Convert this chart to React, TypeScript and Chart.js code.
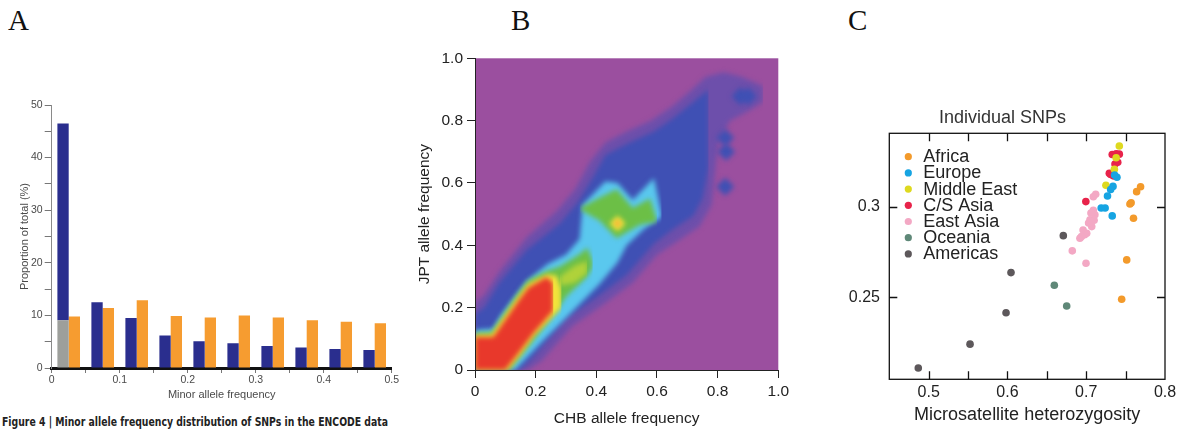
import React, { useEffect, useLayoutEffect, useRef } from 'react';
import { Chart, registerables } from 'chart.js';

Chart.register(...registerables);

const SANS = '"Liberation Sans", Arial, Helvetica, sans-serif';
const SERIF = '"Liberation Serif", "Times New Roman", serif';
const NARROW = '"Liberation Sans Narrow", "Arial Narrow", "DejaVu Sans Condensed", "Liberation Sans", sans-serif';

// ---------------- Panel A: minor allele frequency histogram ----------------
const mafBins = [0.025, 0.075, 0.125, 0.175, 0.225, 0.275, 0.325, 0.375, 0.425, 0.475];
const mafBlue = [46.5, 12.5, 9.5, 6.2, 5.1, 4.7, 4.2, 3.9, 3.6, 3.4];
const mafGreyShare = [9.1, 0, 0, 0, 0, 0, 0, 0, 0, 0];
const mafOrange = [9.8, 11.4, 12.9, 9.9, 9.6, 10.0, 9.6, 9.1, 8.8, 8.5];
const mafXTicks = [0, 0.05, 0.1, 0.15, 0.2, 0.25, 0.3, 0.35, 0.4, 0.45, 0.5];
const mafXLabels = ['0', '', '0.1', '', '0.2', '', '0.3', '', '0.4', '', '0.5'];
const propYTicks = [0, 5, 10, 15, 20, 25, 30, 35, 40, 45, 50];
const propYLabels = ['0', '', '10', '', '20', '', '30', '', '40', '', '50'];

// ---------------- Panel B: CHB vs JPT allele frequency density ----------------
const freqTicks = [0, 0.2, 0.4, 0.6, 0.8, 1.0];
const freqLabels = ['0', '0.2', '0.4', '0.6', '0.8', '1.0'];
const haloUpper = [[0, 0.215], [0.03, 0.24], [0.08, 0.315], [0.17, 0.425], [0.27, 0.51], [0.33, 0.58], [0.38, 0.67], [0.43, 0.73], [0.5, 0.765], [0.58, 0.8], [0.65, 0.845], [0.71, 0.895], [0.76, 0.94], [0.82, 0.955], [0.88, 0.94], [0.95, 0.91]];
const haloLower = [[0, 0], [0.175, 0], [0.22, 0.03], [0.32, 0.14], [0.43, 0.215], [0.52, 0.28], [0.6, 0.37], [0.67, 0.415], [0.74, 0.46], [0.78, 0.53], [0.8, 0.72], [0.84, 0.8], [0.9, 0.83], [0.95, 0.86]];
const blueUpper = [[0, 0.18], [0.03, 0.2], [0.08, 0.28], [0.17, 0.385], [0.28, 0.47], [0.34, 0.54], [0.39, 0.62], [0.43, 0.69], [0.5, 0.725], [0.59, 0.765], [0.65, 0.805], [0.72, 0.86], [0.77, 0.9]];
const blueLower = [[0, 0], [0.148, 0], [0.19, 0.04], [0.3, 0.165], [0.41, 0.24], [0.5, 0.305], [0.59, 0.405], [0.65, 0.45], [0.72, 0.495], [0.75, 0.55], [0.77, 0.65]];
const cyanUpper = [[0, 0.128], [0.06, 0.132], [0.085, 0.175], [0.17, 0.285], [0.24, 0.34], [0.3, 0.37], [0.345, 0.42], [0.355, 0.53], [0.43, 0.605], [0.47, 0.6], [0.52, 0.545], [0.59, 0.615], [0.615, 0.5]];
const cyanLower = [[0, 0], [0.132, 0], [0.225, 0.095], [0.313, 0.18], [0.41, 0.275], [0.47, 0.345], [0.5, 0.4], [0.56, 0.455], [0.615, 0.49]];
const green1Upper = [[0, 0.119], [0.055, 0.121], [0.14, 0.242], [0.175, 0.287], [0.236, 0.318], [0.28, 0.332], [0.346, 0.372], [0.37, 0.392], [0.388, 0.35]];
const green1Lower = [[0, 0], [0.114, 0], [0.2, 0.105], [0.27, 0.19], [0.3, 0.235], [0.37, 0.3], [0.388, 0.33]];
const green2Upper = [[0.346, 0.52], [0.41, 0.553], [0.467, 0.58], [0.52, 0.52], [0.577, 0.55], [0.6, 0.48]];
const green2Lower = [[0.346, 0.515], [0.41, 0.48], [0.467, 0.423], [0.544, 0.466], [0.6, 0.476]];
const limeUpper = [[0.28, 0.3], [0.33, 0.335], [0.37, 0.35]];
const limeLower = [[0.28, 0.27], [0.33, 0.28], [0.37, 0.31]];
const yellowUpper = [[0, 0.112], [0.055, 0.113], [0.14, 0.232], [0.175, 0.276], [0.238, 0.307], [0.27, 0.302], [0.285, 0.26]];
const yellowLower = [[0, 0], [0.107, 0], [0.15, 0.05], [0.195, 0.11], [0.265, 0.18], [0.285, 0.2]];
const redUpper = [[0, 0.106], [0.06, 0.106], [0.143, 0.222], [0.176, 0.265], [0.236, 0.298], [0.258, 0.28]];
const redLower = [[0, 0], [0.1, 0], [0.143, 0.053], [0.192, 0.116], [0.258, 0.19]];
const blueSpots = [[0.825, 0.588], [0.828, 0.7], [0.825, 0.745], [0.875, 0.878], [0.9, 0.878]];
const hotSpot = [[0.47, 0.47]];

// ---------------- Panel C: heterozygosity scatter ----------------
const africa = [[0.769, 0.311], [0.764, 0.3083], [0.757, 0.3022], [0.7555, 0.3015], [0.76, 0.2936], [0.7514, 0.2706], [0.745, 0.2489]];
const europe = [[0.739, 0.3162], [0.734, 0.3112], [0.731, 0.3095], [0.727, 0.3059], [0.719, 0.2993], [0.724, 0.2993], [0.733, 0.2949], [0.736, 0.3175]];
const middleEast = [[0.742, 0.3335], [0.738, 0.327], [0.7357, 0.3206], [0.725, 0.3118]];
const csAsia = [[0.733, 0.3288], [0.742, 0.329], [0.738, 0.3292], [0.7365, 0.3235], [0.74, 0.3245], [0.7293, 0.3184], [0.7344, 0.317], [0.731, 0.3178], [0.6995, 0.3028]];
const eastAsia = [[0.709, 0.3055], [0.712, 0.3068], [0.709, 0.298], [0.7048, 0.2927], [0.707, 0.289], [0.696, 0.2871], [0.7006, 0.2853], [0.692, 0.2826], [0.6823, 0.2756], [0.6997, 0.2688], [0.71, 0.2925], [0.703, 0.291], [0.698, 0.2845], [0.694, 0.2835], [0.711, 0.2955], [0.706, 0.2965]];
const oceania = [[0.6595, 0.2566], [0.6752, 0.2452]];
const americas = [[0.4868, 0.2109], [0.5525, 0.2241], [0.5982, 0.2414], [0.6045, 0.2636], [0.6709, 0.284]];
const msatTicks = [0.5, 0.55, 0.6, 0.65, 0.7, 0.75, 0.8];
const msatLabels = ['0.5', '', '0.6', '', '0.7', '', '0.8'];
const snpTicks = [0.25, 0.3];
const snpLabels = ['0.25', '0.3'];

const regionNames = ['Africa', 'Europe', 'Middle East', 'C/S Asia', 'East Asia', 'Oceania', 'Americas'];
const regionSeries = [africa, europe, middleEast, csAsia, eastAsia, oceania, americas];
const regionColors = ['#f39a2b', '#16a4e2', '#ded91f', '#e8234a', '#f3a8c4', '#5f8878', '#5d585b'];

const toXY = (pairs: number[][]) => pairs.map(([x, y]) => ({ x, y }));

function PanelA() {
  const ref = useRef<HTMLCanvasElement>(null);
  useEffect(() => {
    const chart = new Chart(ref.current!, {
      type: 'bar',
      data: {
        datasets: [
          { label: 'grey', data: mafBins.map((x, i) => ({ x, y: mafGreyShare[i] })), backgroundColor: '#9d9f9b', stack: 'a' },
          { label: 'blue', data: mafBins.map((x, i) => ({ x, y: mafBlue[i] - mafGreyShare[i] })), backgroundColor: '#2a2e8e', stack: 'a' },
          { label: 'orange', data: mafBins.map((x, i) => ({ x, y: mafOrange[i] })), backgroundColor: '#f69c30', stack: 'b' },
        ] as any,
      },
      options: {
        responsive: false,
        animation: false,
        layout: { padding: { top: 10, right: 8.3, left: 0, bottom: 0 } },
        plugins: { legend: { display: false }, tooltip: { enabled: false } },
        datasets: { bar: { categoryPercentage: 0.665, barPercentage: 1, borderWidth: 0 } } as any,
        scales: {
          x: {
            type: 'linear', min: 0, max: 0.5, offset: false,
            afterBuildTicks: (s: any) => { s.ticks = mafXTicks.map((v) => ({ value: v })); },
            afterFit: (s: any) => { s.height = 37; },
            ticks: { autoSkip: false, maxRotation: 0, padding: 1, color: '#4a4a4a', font: { size: 10.5, family: SANS }, callback: (_v: any, i: number) => mafXLabels[i] },
            grid: { drawOnChartArea: false, offset: false, tickLength: 5, color: '#777' },
            border: { color: '#111', width: 3 },
            title: { display: true, text: 'Minor allele frequency', color: '#4a4a4a', font: { size: 11, family: SANS }, padding: { top: 0, bottom: 3.4 } },
          },
          y: {
            min: 0, max: 50, stacked: true,
            afterBuildTicks: (s: any) => { s.ticks = propYTicks.map((v) => ({ value: v })); },
            afterFit: (s: any) => { s.width = 51.7; },
            ticks: { padding: 2, color: '#4a4a4a', font: { size: 10.5, family: SANS }, callback: (_v: any, i: number) => propYLabels[i] },
            grid: { drawOnChartArea: false, tickLength: 7, color: '#777' },
            border: { color: '#8a8a8a', width: 1 },
            title: { display: true, text: 'Proportion of total (%)', color: '#4a4a4a', font: { size: 11, family: SANS }, padding: { top: 18.4, bottom: 0 } },
          },
        } as any,
      },
    });
    return () => chart.destroy();
  }, []);
  return <canvas ref={ref} width={400} height={310} style={{ position: 'absolute', left: 0, top: 95 }} />;
}

const plotBackground = {
  id: 'plotBackground',
  beforeDraw(chart: any) {
    const { ctx, chartArea: a } = chart;
    ctx.save();
    ctx.fillStyle = '#9b4f9f';
    ctx.fillRect(a.left, a.top, a.right - a.left, a.bottom - a.top);
    ctx.restore();
  },
};
const softEdges = {
  id: 'softEdges',
  beforeDatasetsDraw(chart: any) { chart.ctx.save(); chart.ctx.filter = 'blur(2.5px)'; },
  afterDatasetsDraw(chart: any) { chart.ctx.restore(); },
};

function PanelB() {
  const ref = useRef<HTMLCanvasElement>(null);
  useEffect(() => {
    const layers = [
      { color: '#e8382b', upper: redUpper, lower: redLower },
      { color: '#f3e33b', upper: yellowUpper, lower: yellowLower },
      { color: '#b0d23a', upper: limeUpper, lower: limeLower },
      { color: '#6cbf46', upper: green2Upper, lower: green2Lower },
      { color: '#6cbf46', upper: green1Upper, lower: green1Lower },
      { color: '#5ac8ee', upper: cyanUpper, lower: cyanLower },
      { color: '#3f50b4', upper: blueUpper, lower: blueLower },
      { color: '#6d4fab', upper: haloUpper, lower: haloLower },
    ];
    const datasets: any[] = [
      { data: toXY(hotSpot), showLine: false, pointStyle: 'rectRot', pointRadius: 3.5, backgroundColor: '#f3a03a', borderWidth: 0 },
      { data: toXY(hotSpot), showLine: false, pointStyle: 'rectRot', pointRadius: 8, backgroundColor: '#f3e33b', borderWidth: 0 },
    ];
    layers.forEach((l, i) => {
      if (i === 7) {
        datasets.push({ data: toXY(blueSpots), showLine: false, pointStyle: 'rectRot', pointRadius: 9, backgroundColor: '#3f50b4', borderWidth: 0 });
      }
      datasets.push({ data: toXY(l.upper), fill: '+1', backgroundColor: l.color, borderWidth: 0, borderColor: 'rgba(0,0,0,0)', pointRadius: 0 });
      datasets.push({ data: toXY(l.lower), fill: false, borderWidth: 0, borderColor: 'rgba(0,0,0,0)', pointRadius: 0 });
    });
    const tickFont = { size: 15.5, family: SANS };
    const chart = new Chart(ref.current!, {
      type: 'line',
      data: { datasets },
      options: {
        responsive: false,
        animation: false,
        layout: { padding: { top: 10, right: 21.7, left: 0, bottom: 0 } },
        plugins: { legend: { display: false }, tooltip: { enabled: false } },
        elements: { point: { hoverRadius: 0 }, line: { tension: 0 } },
        scales: {
          x: {
            type: 'linear', min: 0, max: 1,
            afterBuildTicks: (s: any) => { s.ticks = freqTicks.map((v) => ({ value: v })); },
            afterFit: (s: any) => { s.height = 60; },
            ticks: { autoSkip: false, maxRotation: 0, padding: 4.4, color: '#222', font: tickFont, callback: (_v: any, i: number) => freqLabels[i] },
            grid: { drawOnChartArea: false, tickLength: 8, color: '#222' },
            border: { color: '#222', width: 1, z: 1 },
            title: { display: true, text: 'CHB allele frequency', color: '#222', font: tickFont, padding: { top: 0, bottom: 2.4 } },
          },
          y: {
            type: 'linear', min: 0, max: 1,
            afterBuildTicks: (s: any) => { s.ticks = freqTicks.map((v) => ({ value: v })); },
            afterFit: (s: any) => { s.width = 70; },
            ticks: { padding: 4, color: '#222', font: tickFont, callback: (_v: any, i: number) => freqLabels[i] },
            grid: { drawOnChartArea: false, tickLength: 8, color: '#222' },
            border: { color: '#222', width: 1, z: 1 },
            title: { display: true, text: 'JPT allele frequency', color: '#222', font: tickFont, padding: { top: 10.7, bottom: 0 } },
          },
        } as any,
      },
      plugins: [plotBackground, softEdges],
    });
    return () => chart.destroy();
  }, []);
  return <canvas ref={ref} width={395} height={385} style={{ position: 'absolute', left: 405, top: 45 }} />;
}

const insideLegend = {
  id: 'insideLegend',
  afterDraw(chart: any) {
    const { ctx, chartArea: a } = chart;
    ctx.save();
    ctx.font = `18px ${SANS}`;
    ctx.textBaseline = 'middle';
    ctx.textAlign = 'left';
    chart.data.datasets.forEach((ds: any, i: number) => {
      const y = a.top + 23.4 + i * 16.2;
      ctx.fillStyle = ds.backgroundColor;
      ctx.beginPath();
      ctx.arc(a.left + 19, y, 3.6, 0, Math.PI * 2);
      ctx.fill();
      ctx.fillStyle = '#222';
      ctx.fillText(ds.label, a.left + 34, y + 0.5);
    });
    ctx.restore();
  },
};

// closed frame with inward tick marks on all four sides, placed through the chart's scales
const inwardFrame = {
  id: 'inwardFrame',
  afterDatasetsDraw(chart: any) {
    const { ctx, chartArea: a, scales } = chart;
    const xs = scales.x;
    const ys = scales.y;
    const len = 8;
    ctx.save();
    ctx.strokeStyle = '#111';
    ctx.lineWidth = 1.3;
    ctx.strokeRect(a.left, a.top, a.right - a.left, a.bottom - a.top);
    ctx.beginPath();
    msatTicks.forEach((v) => {
      const px = Math.round(xs.getPixelForValue(v)) + 0.5;
      if (px > a.left + 1 && px < a.right - 1) {
        ctx.moveTo(px, a.bottom); ctx.lineTo(px, a.bottom - len);
        ctx.moveTo(px, a.top); ctx.lineTo(px, a.top + len);
      }
    });
    snpTicks.forEach((v) => {
      const py = Math.round(ys.getPixelForValue(v)) + 0.5;
      ctx.moveTo(a.left, py); ctx.lineTo(a.left + len, py);
      ctx.moveTo(a.right, py); ctx.lineTo(a.right - len, py);
    });
    ctx.stroke();
    ctx.restore();
  },
};

function PanelC() {
  const ref = useRef<HTMLCanvasElement>(null);
  useEffect(() => {
    const axisFont = { size: 16, family: SANS };
    const chart = new Chart(ref.current!, {
      type: 'scatter',
      data: {
        datasets: regionSeries.map((pts, i) => ({
          label: regionNames[i],
          data: toXY(pts),
          backgroundColor: regionColors[i],
          borderWidth: 0,
          pointRadius: 3.8,
          pointHoverRadius: 3.8,
        })),
      },
      options: {
        responsive: false,
        animation: false,
        layout: { padding: { top: 0, right: 20, left: 0, bottom: 0 } },
        plugins: {
          legend: { display: false },
          tooltip: { enabled: false },
          title: { display: true, text: 'Individual SNPs', color: '#333', font: { size: 18, family: SANS, weight: 'normal' }, padding: { top: 12.2, bottom: 4.5 } },
        },
        scales: {
          x: {
            type: 'linear', position: 'bottom', min: 0.45, max: 0.8,
            afterBuildTicks: (s: any) => { s.ticks = msatTicks.map((v) => ({ value: v })); },
            afterFit: (s: any) => { s.height = 52.7; },
            ticks: { autoSkip: false, maxRotation: 0, padding: 4.1, color: '#222', font: axisFont, callback: (_v: any, i: number) => msatLabels[i] },
            grid: { display: false, drawTicks: false },
            border: { display: false },
            title: { display: true, text: 'Microsatellite heterozygosity', color: '#222', font: { size: 18, family: SANS }, padding: { top: 0, bottom: 6.2 } },
          },
          y: {
            type: 'linear', position: 'left', min: 0.2047, max: 0.3405,
            afterBuildTicks: (s: any) => { s.ticks = snpTicks.map((v) => ({ value: v })); },
            afterFit: (s: any) => { s.width = 49.3; },
            ticks: { padding: 9.3, color: '#222', font: axisFont, callback: (_v: any, i: number) => snpLabels[i] },
            grid: { display: false, drawTicks: false },
            border: { display: false },
          },
        } as any,
      },
      plugins: [inwardFrame, insideLegend],
    });
    return () => chart.destroy();
  }, []);
  return <canvas ref={ref} width={345} height={337} style={{ position: 'absolute', left: 840, top: 95 }} />;
}

function Caption() {
  const ref = useRef<HTMLSpanElement>(null);
  useLayoutEffect(() => {
    const el = ref.current;
    if (!el) return;
    el.style.transform = 'none';
    const w = el.getBoundingClientRect().width;
    if (w > 0) el.style.transform = `scaleX(${386 / w})`;
  }, []);
  return (
    <span
      ref={ref}
      style={{ position: 'absolute', left: 2, top: 415, font: `bold 12.5px ${NARROW}`, lineHeight: '14px', whiteSpace: 'nowrap', transformOrigin: 'left center', color: '#222' }}
    >
      Figure 4 | Minor allele frequency distribution of SNPs in the ENCODE data
    </span>
  );
}

const panelLabel = (text: string, left: number) => (
  <div style={{ position: 'absolute', left, top: 5.5, font: `29px ${SERIF}`, lineHeight: '29px', color: '#111' }}>{text}</div>
);

export default function App() {
  return (
    <div style={{ position: 'absolute', left: 0, top: 0, width: 1185, height: 432, overflow: 'hidden', background: '#fff' }}>
      {panelLabel('A', 8)}
      {panelLabel('B', 511)}
      {panelLabel('C', 848)}
      <PanelA />
      <Caption />
      <PanelB />
      <PanelC />
    </div>
  );
}
